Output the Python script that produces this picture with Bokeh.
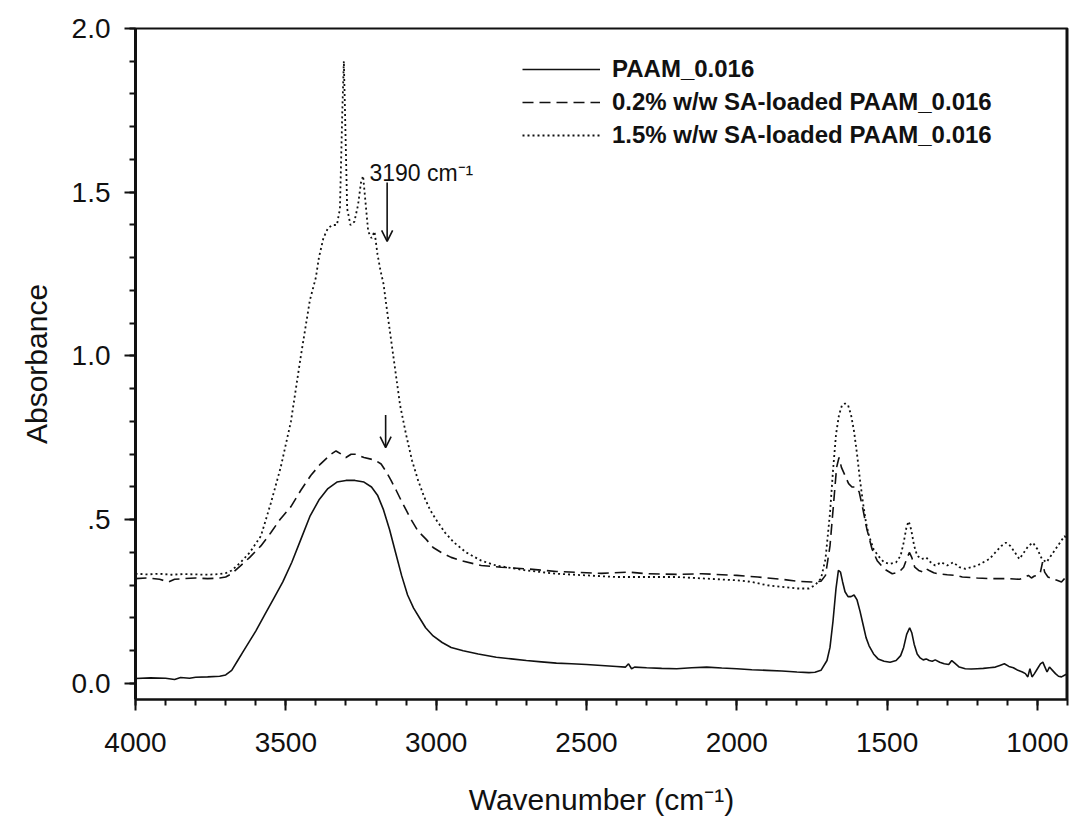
from bokeh.plotting import figure
from bokeh.models import (Range1d, SingleIntervalTicker, FixedTicker, Legend, LegendItem,
                          Label, Arrow, OpenHead, Span)
from bokeh.embed import file_html
from bokeh.resources import INLINE

# ---------------- data ----------------
paam_wn = [4000, 3950, 3900, 3870, 3850, 3820, 3800, 3760, 3720, 3700, 3680, 3660, 3640,
           3620, 3600, 3570, 3540, 3510, 3480, 3450, 3420, 3390, 3360, 3330, 3300, 3270,
           3240, 3215, 3195, 3175, 3155, 3135, 3115, 3095, 3075, 3055, 3035, 3010, 2980,
           2950, 2910, 2860, 2800, 2750, 2700, 2650, 2600, 2550, 2500, 2450, 2400, 2370,
           2360, 2350, 2340, 2300, 2250, 2200, 2150, 2100, 2050, 2000, 1950, 1900, 1850,
           1800, 1760, 1740, 1720, 1700, 1690, 1680, 1670, 1662, 1655, 1648, 1640, 1630,
           1620, 1610, 1600, 1590, 1580, 1570, 1560, 1545, 1530, 1510, 1490, 1470, 1455,
           1445, 1435, 1425, 1418, 1410, 1400, 1390, 1380, 1370, 1360, 1350, 1340, 1325,
           1310, 1295, 1285, 1275, 1260, 1240, 1220, 1200, 1180, 1160, 1140, 1125, 1110,
           1095, 1080, 1065, 1050, 1040, 1032, 1025, 1018, 1010, 1000, 990, 982, 975, 968,
           960, 950, 940, 930, 920, 910, 900]
paam_abs = [0.015, 0.017, 0.016, 0.012, 0.018, 0.016, 0.019, 0.02, 0.022, 0.026, 0.04,
            0.07, 0.10, 0.13, 0.16, 0.21, 0.26, 0.31, 0.37, 0.44, 0.51, 0.56, 0.595, 0.615,
            0.62, 0.62, 0.615, 0.60, 0.575, 0.53, 0.47, 0.40, 0.33, 0.27, 0.23, 0.20, 0.17,
            0.145, 0.125, 0.11, 0.10, 0.09, 0.08, 0.075, 0.07, 0.066, 0.062, 0.06, 0.058,
            0.055, 0.052, 0.05, 0.06, 0.045, 0.05, 0.048, 0.046, 0.045, 0.048, 0.05, 0.047,
            0.045, 0.042, 0.04, 0.038, 0.035, 0.033, 0.034, 0.04, 0.07, 0.11, 0.19, 0.29,
            0.345, 0.34, 0.31, 0.28, 0.265, 0.265, 0.27, 0.255, 0.22, 0.18, 0.14, 0.115,
            0.09, 0.075, 0.068, 0.065, 0.07, 0.085, 0.11, 0.15, 0.17, 0.155, 0.12, 0.09,
            0.078, 0.072, 0.075, 0.07, 0.068, 0.072, 0.065, 0.06, 0.058, 0.07, 0.062, 0.05,
            0.045, 0.044, 0.045, 0.046, 0.048, 0.05, 0.055, 0.06, 0.052, 0.048, 0.04, 0.035,
            0.03, 0.02, 0.045, 0.02, 0.03, 0.045, 0.06, 0.065, 0.05, 0.035, 0.05, 0.04, 0.03,
            0.022, 0.02, 0.025, 0.03, 0.03]

sa02_wn = [4000, 3960, 3920, 3890, 3870, 3840, 3800, 3760, 3720, 3700, 3680, 3650, 3620,
           3583, 3550, 3520, 3483, 3450, 3417, 3385, 3350, 3333, 3315, 3300, 3283, 3267,
           3240, 3217, 3200, 3183, 3165, 3150, 3133, 3117, 3100, 3083, 3060, 3033, 3010,
           2983, 2950, 2917, 2850, 2783, 2700, 2600, 2500, 2450, 2360, 2300, 2200, 2117,
           2000, 1930, 1850, 1800, 1750, 1720, 1705, 1690, 1678, 1668, 1660, 1652, 1640,
           1628, 1617, 1605, 1593, 1580, 1567, 1550, 1533, 1510, 1483, 1460, 1445, 1435,
           1426, 1418, 1408, 1395, 1380, 1370, 1360, 1345, 1330, 1300, 1270, 1250, 1200,
           1150, 1100, 1060, 1040, 1030, 1020, 1010, 1000, 990, 983, 976, 965, 950, 935,
           920, 910, 900]
sa02_abs = [0.32, 0.322, 0.318, 0.31, 0.318, 0.32, 0.322, 0.32, 0.322, 0.325, 0.335, 0.36,
            0.385, 0.42, 0.46, 0.50, 0.54, 0.59, 0.635, 0.67, 0.70, 0.71, 0.70, 0.69, 0.70,
            0.70, 0.69, 0.685, 0.68, 0.67, 0.645, 0.62, 0.59, 0.56, 0.53, 0.50, 0.465, 0.44,
            0.415, 0.40, 0.385, 0.375, 0.36, 0.355, 0.35, 0.342, 0.338, 0.336, 0.34, 0.335,
            0.333, 0.335, 0.33, 0.325, 0.318, 0.312, 0.31, 0.312, 0.33, 0.42, 0.55, 0.66,
            0.69, 0.66, 0.635, 0.61, 0.60, 0.60, 0.585, 0.53, 0.47, 0.41, 0.375, 0.35, 0.335,
            0.34, 0.355, 0.38, 0.40, 0.385, 0.355, 0.345, 0.34, 0.35, 0.345, 0.338, 0.335,
            0.332, 0.33, 0.325, 0.322, 0.32, 0.32, 0.318, 0.325, 0.33, 0.322, 0.328, 0.33,
            0.34, 0.37, 0.34, 0.325, 0.32, 0.315, 0.31, 0.32, 0.322]

sa15_wn = [4000, 3960, 3920, 3880, 3840, 3800, 3760, 3720, 3700, 3680, 3650, 3620, 3583,
           3550, 3517, 3483, 3450, 3420, 3400, 3390, 3375, 3360, 3345, 3330, 3320, 3312,
           3307, 3302, 3296, 3285, 3272, 3260, 3250, 3243, 3236, 3226, 3215, 3205, 3195,
           3185, 3175, 3165, 3150, 3135, 3120, 3100, 3080, 3060, 3040, 3020, 3000, 2970,
           2940, 2900, 2850, 2800, 2700, 2600, 2500, 2400, 2300, 2200, 2100, 2000, 1950,
           1900, 1850, 1800, 1760, 1740, 1720, 1705, 1690, 1680, 1670, 1660, 1650, 1640,
           1630, 1620, 1610, 1600, 1590, 1580, 1570, 1560, 1545, 1530, 1510, 1490, 1470,
           1455, 1445, 1435, 1428, 1420, 1410, 1400, 1385, 1370, 1355, 1340, 1320, 1300,
           1280, 1260, 1240, 1220, 1200, 1180, 1160, 1140, 1120, 1105, 1090, 1075, 1060,
           1045, 1030, 1015, 1000, 985, 970, 955, 940, 925, 910, 900]
sa15_abs = [0.335, 0.333, 0.335, 0.332, 0.334, 0.333, 0.332, 0.334, 0.337, 0.345, 0.37,
            0.40, 0.45, 0.55, 0.66, 0.80, 1.00, 1.17, 1.24, 1.30, 1.36, 1.39, 1.40, 1.40,
            1.45, 1.75, 1.90, 1.70, 1.45, 1.40, 1.41, 1.46, 1.53, 1.55, 1.48, 1.38, 1.36,
            1.38, 1.31, 1.26, 1.22, 1.15, 1.05, 0.95, 0.85, 0.76, 0.68, 0.62, 0.57, 0.53,
            0.50, 0.46, 0.43, 0.40, 0.375, 0.36, 0.345, 0.335, 0.33, 0.325, 0.325, 0.325,
            0.32, 0.315, 0.31, 0.30, 0.295, 0.29, 0.29, 0.30, 0.32, 0.38, 0.52, 0.65, 0.76,
            0.82, 0.85, 0.855, 0.85, 0.82, 0.77, 0.70, 0.62, 0.55, 0.49, 0.45, 0.41, 0.39,
            0.37, 0.365, 0.37, 0.39, 0.43, 0.48, 0.495, 0.47, 0.42, 0.39, 0.38, 0.385, 0.37,
            0.36, 0.37, 0.36, 0.37, 0.355, 0.35, 0.355, 0.36, 0.37, 0.38, 0.40, 0.42, 0.43,
            0.42, 0.40, 0.38, 0.40, 0.42, 0.43, 0.41, 0.38, 0.37, 0.39, 0.41, 0.43, 0.45,
            0.44]

series_labels = ["PAAM_0.016", "0.2% w/w SA-loaded PAAM_0.016", "1.5% w/w SA-loaded PAAM_0.016"]

x_ticks = [4000, 3500, 3000, 2500, 2000, 1500, 1000]
y_ticks = [0.0, 0.5, 1.0, 1.5, 2.0]
y_tick_labels = ["0.0", ".5", "1.0", "1.5", "2.0"]

annot_text = "3190 cm\u207b\u00b9"
annot_pos = (3222, 1.56)
arrow1 = (3163, 1.53, 3163, 1.35)
arrow2 = (3168, 0.82, 3168, 0.72)

# ---------------- figure ----------------
FONT = "Liberation Sans"
p = figure(width=1075, height=829, output_backend="svg", toolbar_location=None,
           x_range=Range1d(4000, 900), y_range=Range1d(-0.049, 2.0),
           min_border_left=135, min_border_right=8, min_border_top=28,
           min_border_bottom=130, background_fill_color="white",
           border_fill_color="white")
p.grid.visible = False
p.outline_line_color = "#111111"
p.outline_line_width = 2

ink = "#111111"
r1 = p.line(paam_wn, paam_abs, line_color=ink, line_width=1.6)
r2 = p.line(sa02_wn, sa02_abs, line_color=ink, line_width=1.6, line_dash="11 6")
r3 = p.line(sa15_wn, sa15_abs, line_color=ink, line_width=1.8, line_dash="2 3")

# axes
xa = p.xaxis[0]
xa.ticker = FixedTicker(ticks=x_ticks, minor_ticks=list(range(900, 4001, 100)))
xa.axis_label = "Wavenumber (cm\u207b\u00b9)"
ya = p.yaxis[0]
ya.ticker = FixedTicker(ticks=y_ticks, minor_ticks=[i / 10 for i in range(0, 21)])
ya.major_label_overrides = {t: l for t, l in zip(y_ticks, y_tick_labels)}
ya.axis_label = "Absorbance"
for ax in (xa, ya):
    ax.axis_line_color = ink
    ax.major_tick_line_color = ink
    ax.minor_tick_line_color = ink
    ax.major_tick_line_width = 2
    ax.minor_tick_line_width = 2
    ax.major_tick_in = 0
    ax.minor_tick_in = 0
    ax.major_tick_out = 11
    ax.minor_tick_out = 6
    ax.major_label_text_font = FONT
    ax.major_label_text_font_size = "28px"
    ax.major_label_text_color = ink
    ax.axis_label_text_font = FONT
    ax.axis_label_text_font_size = "30px"
    ax.axis_label_text_font_style = "normal"
    ax.axis_label_text_color = ink
ya.axis_line_width = 3
xa.axis_line_width = 2
xa.major_label_standoff = 22
xa.axis_label_standoff = 28
ya.major_label_standoff = 14
ya.axis_label_standoff = 16

p.add_layout(Span(location=900, dimension="height", line_color=ink, line_width=4))

# legend
legend = Legend(items=[LegendItem(label=series_labels[0], renderers=[r1]),
                       LegendItem(label=series_labels[1], renderers=[r2]),
                       LegendItem(label=series_labels[2], renderers=[r3])],
                location=(387, 550), orientation="vertical",
                glyph_width=78, glyph_height=28, label_height=28, spacing=5,
                label_standoff=12, padding=0, margin=0,
                background_fill_alpha=0, border_line_alpha=0,
                label_text_font=FONT, label_text_font_style="bold",
                label_text_font_size="24px", label_text_color=ink)
p.add_layout(legend)

# annotations
p.add_layout(Label(x=annot_pos[0], y=annot_pos[1], text=annot_text, text_font=FONT,
                   text_font_size="23px", text_color=ink, text_baseline="alphabetic"))
for (xs, ys, xe, ye) in (arrow1, arrow2):
    p.add_layout(Arrow(x_start=xs, y_start=ys, x_end=xe, y_end=ye, line_color=ink,
                       line_width=1.6,
                       end=OpenHead(size=11, line_color=ink, line_width=1.6)))

open("out.html", "w").write(file_html(p, INLINE))
